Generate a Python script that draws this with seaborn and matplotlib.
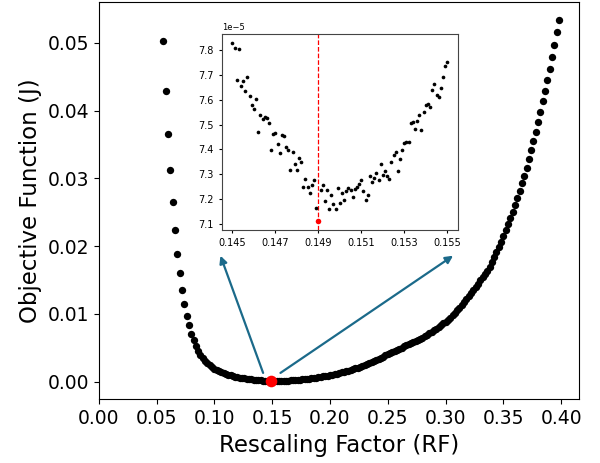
import matplotlib
matplotlib.use("Agg")
import matplotlib.pyplot as plt
import seaborn as sns
import pandas as pd

# ---------------- main curve data ----------------
rf = [0.056, 0.058, 0.060, 0.062, 0.064, 0.066, 0.068, 0.070, 0.072, 0.074,
      0.076, 0.078, 0.080, 0.082, 0.084, 0.086, 0.088, 0.090, 0.092, 0.094,
      0.096, 0.098, 0.100, 0.102, 0.104, 0.106, 0.108, 0.110, 0.112, 0.114,
      0.116, 0.118, 0.120, 0.122, 0.124, 0.126, 0.128, 0.130, 0.132, 0.134,
      0.136, 0.138, 0.140, 0.142, 0.144, 0.146, 0.148, 0.150, 0.152, 0.154,
      0.156, 0.158, 0.160, 0.162, 0.164, 0.166, 0.168, 0.170, 0.172, 0.174,
      0.176, 0.178, 0.180, 0.182, 0.184, 0.186, 0.188, 0.190, 0.192, 0.194,
      0.196, 0.198, 0.200, 0.202, 0.204, 0.206, 0.208, 0.210, 0.212, 0.214,
      0.216, 0.218, 0.220, 0.222, 0.224, 0.226, 0.228, 0.230, 0.232, 0.234,
      0.236, 0.238, 0.240, 0.242, 0.244, 0.246, 0.248, 0.250, 0.252, 0.254,
      0.256, 0.258, 0.260, 0.262, 0.264, 0.266, 0.268, 0.270, 0.272, 0.274,
      0.276, 0.278, 0.280, 0.282, 0.284, 0.286, 0.288, 0.290, 0.292, 0.294,
      0.296, 0.298, 0.300, 0.302, 0.304, 0.306, 0.308, 0.310, 0.312, 0.314,
      0.316, 0.318, 0.320, 0.322, 0.324, 0.326, 0.328, 0.330, 0.332, 0.334,
      0.336, 0.338, 0.340, 0.342, 0.344, 0.346, 0.348, 0.350, 0.352, 0.354,
      0.356, 0.358, 0.360, 0.362, 0.364, 0.366, 0.368, 0.370, 0.372, 0.374,
      0.376, 0.378, 0.380, 0.382, 0.384, 0.386, 0.388, 0.390, 0.392, 0.394,
      0.396, 0.398]

objective = [0.0503, 0.0429, 0.0366, 0.0312, 0.0265, 0.0224, 0.0189, 0.0160, 0.0136, 0.0115,
             0.0097, 0.0083, 0.0071, 0.0061, 0.0053, 0.0046, 0.0040, 0.0035, 0.0031, 0.0027,
             0.0024, 0.00215, 0.00192, 0.00172, 0.00155, 0.00140, 0.00126, 0.00114, 0.00103, 0.00093,
             0.00084, 0.00076, 0.00068, 0.00061, 0.00055, 0.00049, 0.00044, 0.00039, 0.00034, 0.00030,
             0.00026, 0.00022, 0.00019, 0.00016, 0.00013, 0.00011, 0.000085, 0.000074, 0.000076, 0.000084,
             0.000097, 0.00011, 0.00013, 0.00015, 0.00017, 0.00019, 0.00022, 0.00024, 0.00027, 0.00030,
             0.00034, 0.00038, 0.00042, 0.00046, 0.00051, 0.00056, 0.00061, 0.00066, 0.00072, 0.00078,
             0.00084, 0.00091, 0.00098, 0.00105, 0.00112, 0.00120, 0.00128, 0.00137, 0.00146, 0.00155,
             0.00165, 0.00175, 0.00186, 0.00197, 0.00208, 0.00220, 0.00232, 0.00245, 0.00258, 0.00272,
             0.00286, 0.00300, 0.00325, 0.00340, 0.00356, 0.00372, 0.00390, 0.00408, 0.00425, 0.00441,
             0.00457, 0.00473, 0.00489, 0.00505, 0.00520, 0.00535, 0.00550, 0.00566, 0.00582, 0.00598,
             0.00615, 0.00633, 0.00652, 0.00671, 0.00691, 0.00712, 0.00734, 0.00757, 0.00781, 0.00806,
             0.00832, 0.00860, 0.00885, 0.00915, 0.00947, 0.00981, 0.01017, 0.01055, 0.01094, 0.01135,
             0.01177, 0.01220, 0.01264, 0.01309, 0.01355, 0.01401, 0.01448, 0.01495, 0.01542, 0.01588,
             0.01635, 0.01700, 0.01765, 0.01838, 0.01916, 0.01994, 0.02068, 0.02151, 0.02240, 0.02324,
             0.02412, 0.02509, 0.02607, 0.02710, 0.02808, 0.02926, 0.03035, 0.03160, 0.03284, 0.03414,
             0.03553, 0.03691, 0.03838, 0.03985, 0.04141, 0.04288, 0.04456, 0.04622, 0.04788, 0.04975,
             0.05156, 0.05338]

best_rf = [0.149]
best_obj = [7.11e-5]

# ---------------- zoomed (inset) data ----------------
zoom_rf = [0.1450, 0.1451, 0.1452, 0.1453, 0.1454, 0.1455, 0.1456, 0.1457, 0.1458, 0.1459,
           0.1460, 0.1461, 0.1462, 0.1463, 0.1464, 0.1465, 0.1466, 0.1467, 0.1468, 0.1469,
           0.1470, 0.1471, 0.1472, 0.1473, 0.1474, 0.1475, 0.1476, 0.1477, 0.1478, 0.1479,
           0.1480, 0.1481, 0.1482, 0.1483, 0.1484, 0.1485, 0.1486, 0.1487, 0.1488, 0.1489,
           0.1491, 0.1492, 0.1493, 0.1494, 0.1495, 0.1496, 0.1497, 0.1498, 0.1499, 0.1500,
           0.1501, 0.1502, 0.1503, 0.1504, 0.1505, 0.1506, 0.1507, 0.1508, 0.1509, 0.1510,
           0.1511, 0.1512, 0.1513, 0.1514, 0.1515, 0.1516, 0.1517, 0.1518, 0.1519, 0.1520,
           0.1521, 0.1522, 0.1523, 0.1524, 0.1525, 0.1526, 0.1527, 0.1528, 0.1529, 0.1530,
           0.1531, 0.1532, 0.1533, 0.1534, 0.1535, 0.1536, 0.1537, 0.1538, 0.1539, 0.1540,
           0.1541, 0.1542, 0.1543, 0.1544, 0.1545, 0.1546, 0.1547, 0.1548, 0.1549, 0.1550]

zoom_obj_e5 = [7.830, 7.809, 7.682, 7.807, 7.655, 7.676, 7.636, 7.694, 7.617, 7.581,
               7.562, 7.603, 7.472, 7.538, 7.521, 7.531, 7.527, 7.505, 7.398, 7.462,
               7.466, 7.423, 7.384, 7.457, 7.454, 7.408, 7.399, 7.318, 7.391, 7.342,
               7.317, 7.365, 7.350, 7.248, 7.280, 7.249, 7.225, 7.254, 7.275, 7.162,
               7.237, 7.255, 7.190, 7.237, 7.157, 7.215, 7.181, 7.157, 7.243, 7.182,
               7.224, 7.197, 7.231, 7.243, 7.236, 7.209, 7.241, 7.249, 7.259, 7.278,
               7.233, 7.197, 7.217, 7.291, 7.268, 7.285, 7.303, 7.275, 7.342, 7.298,
               7.311, 7.291, 7.279, 7.349, 7.377, 7.391, 7.314, 7.363, 7.398, 7.427,
               7.429, 7.430, 7.507, 7.509, 7.484, 7.516, 7.540, 7.480, 7.552, 7.581,
               7.583, 7.573, 7.641, 7.663, 7.618, 7.613, 7.648, 7.691, 7.737, 7.754]

main_xticks = [0.00, 0.05, 0.10, 0.15, 0.20, 0.25, 0.30, 0.35, 0.40]
inset_xticks = [0.145, 0.147, 0.149, 0.151, 0.153, 0.155]

main_df = pd.DataFrame({"rf": rf, "J": objective})
best_df = pd.DataFrame({"rf": best_rf, "J": best_obj})
zoom_df = pd.DataFrame({"rf": zoom_rf, "J": [v * 1e-5 for v in zoom_obj_e5]})

arrow_color = "#1b6a8a"

fig = plt.figure(figsize=(6.0, 4.63), dpi=100)
ax = fig.add_axes([0.1645, 0.1376, 0.8005, 0.858])

sns.scatterplot(data=main_df, x="rf", y="J", ax=ax, color="black", s=28,
                linewidth=0, zorder=2)
sns.scatterplot(data=best_df, x="rf", y="J", ax=ax, color="red", s=70,
                linewidth=0, zorder=3)

ax.set_xlim(0, 0.4154)
ax.set_xticks(main_xticks)
ax.set_xticklabels([f"{t:.2f}" for t in main_xticks])
ax.set_xlabel("Rescaling Factor (RF)", fontsize=16.5)
ax.set_ylabel("Objective Function (J)", fontsize=16.5)
ax.tick_params(axis="both", labelsize=13.5)

# arrows from the minimum toward the inset
ax.annotate("", xy=(0.1053, 0.0186), xytext=(0.1422, 0.0013),
            arrowprops=dict(arrowstyle="-|>", color=arrow_color, lw=1.6,
                            shrinkA=0, shrinkB=0, mutation_scale=11), zorder=1)
ax.annotate("", xy=(0.3065, 0.0186), xytext=(0.1572, 0.0013),
            arrowprops=dict(arrowstyle="-|>", color=arrow_color, lw=1.6,
                            shrinkA=0, shrinkB=0, mutation_scale=11), zorder=1)

# inset
axin = fig.add_axes([0.3695, 0.5032, 0.3938, 0.4233])
sns.scatterplot(data=zoom_df, x="rf", y="J", ax=axin, color="black", s=7,
                linewidth=0, zorder=2)
sns.scatterplot(data=best_df, x="rf", y="J", ax=axin, color="red", s=16,
                linewidth=0, zorder=3)
axin.axvline(best_rf[0], color="red", linestyle="--", linewidth=0.9, zorder=1)
axin.set_xticks(inset_xticks)
axin.set_xticklabels([f"{t:.3f}" for t in inset_xticks])
axin.set_xlabel("")
axin.set_ylabel("")
axin.tick_params(axis="both", labelsize=7, length=2.5)
axin.yaxis.get_offset_text().set_fontsize(6)
for sp in axin.spines.values():
    sp.set_color("#444444")

fig.savefig("out.png", dpi=100)
